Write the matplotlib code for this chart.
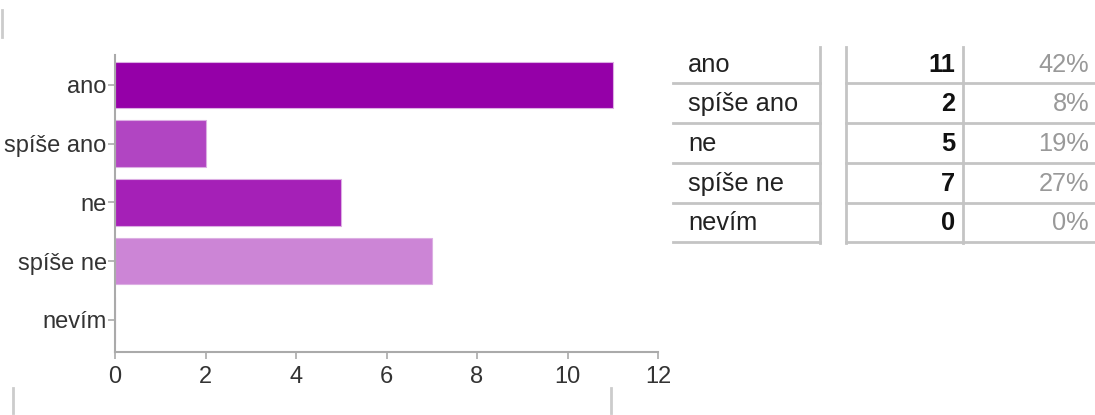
import matplotlib.pyplot as plt
from matplotlib.lines import Line2D

# data
kategorie = ['ano', 'spíše ano', 'ne', 'spíše ne', 'nevím']
pocty = [11, 2, 5, 7, 0]
procenta = ['42%', '8%', '19%', '27%', '0%']
barvy = ['#9500a8', '#b145c2', '#a520b7', '#cc85d6', '#e0b3e6']
x_ticks = [0, 2, 4, 6, 8, 10, 12]

W, H = 1095, 415
fig = plt.figure(figsize=(W / 100, H / 100), dpi=100)
plt.rcParams['font.family'] = ['Liberation Sans', 'DejaVu Sans']

def fx(x):
    return x / W

def fy(y):
    return 1 - y / H

# graf
ax = fig.add_axes([fx(115), fy(352), fx(658) - fx(115), fy(55) - fy(352)])
pozice = list(range(len(kategorie)))
ax.barh(pozice, pocty, height=0.79, color=barvy, edgecolor='#dcaee3', linewidth=0.8)
ax.set_ylim(4.55, -0.51)
ax.set_xlim(0, 12)
ax.set_yticks(pozice)
ax.set_yticklabels(kategorie)
ax.set_xticks(x_ticks)
for s in ['top', 'right']:
    ax.spines[s].set_visible(False)
for s in ['left', 'bottom']:
    ax.spines[s].set_color('#aaaaaa')
    ax.spines[s].set_linewidth(1.5)
ax.tick_params(axis='both', colors='#aaaaaa', length=5, width=1.2, labelsize=17, labelcolor='#333333', pad=1)
ax.tick_params(axis='x', pad=5)

# tabulka
sed = '#c4c4c4'
radky_y = [65, 104, 144, 184, 223]
for i, (k, n, p) in enumerate(zip(kategorie, pocty, procenta)):
    y = fy(radky_y[i])
    fig.text(fx(688), y, k, fontsize=18.3, color='#222222', va='center', ha='left')
    fig.text(fx(955), y, str(n), fontsize=18.3, color='#111111', fontweight='bold', va='center', ha='right')
    fig.text(fx(1089), y, p, fontsize=18.3, color='#999999', va='center', ha='right')

cary_y = [83, 123, 163, 203, 242]
for yy in cary_y:
    fig.add_artist(Line2D([fx(673), fx(820)], [fy(yy), fy(yy)], color=sed, lw=2))
    fig.add_artist(Line2D([fx(846), fx(1095)], [fy(yy), fy(yy)], color=sed, lw=2))
for xx in [820, 846, 963]:
    fig.add_artist(Line2D([fx(xx), fx(xx)], [fy(47), fy(243)], color=sed, lw=2))

# okrajove cary
fig.add_artist(Line2D([fx(1.5), fx(1.5)], [fy(10), fy(37)], color='#cccccc', lw=2))
fig.add_artist(Line2D([fx(13), fx(13)], [fy(388), fy(413)], color='#cccccc', lw=2))
fig.add_artist(Line2D([fx(611), fx(611)], [fy(388), fy(413)], color='#cccccc', lw=2))

plt.savefig('out.png', dpi=100)
